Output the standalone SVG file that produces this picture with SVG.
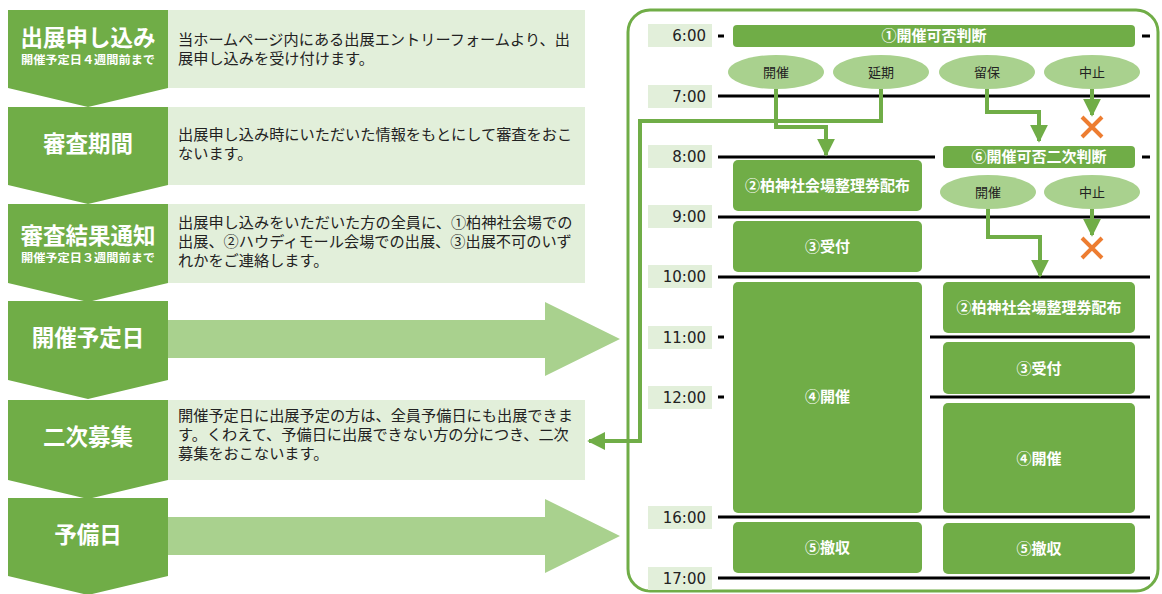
<svg xmlns="http://www.w3.org/2000/svg" width="1162" height="594" viewBox="0 0 1162 594">
<defs>
<style>
.blk{fill:#70ad47}
.desc{fill:#e2efda}
.big{fill:#a9d18e}
.ttl{font-family:"Noto Sans CJK JP",sans-serif;font-weight:bold;fill:#fff;font-size:22.5px;text-anchor:middle}
.sub{font-family:"Noto Sans CJK JP",sans-serif;font-weight:bold;fill:#fff;font-size:11.5px;text-anchor:middle}
.dt{font-family:"Noto Sans CJK JP",sans-serif;fill:#222;font-size:15.2px}
.tl{fill:#e2efda}
.tt{font-family:"DejaVu Sans",Verdana,sans-serif;fill:#222;font-size:15px;text-anchor:end}
.ln{stroke:#000;stroke-width:3;fill:none}
.box{fill:#70ad47}
.bt{font-family:"Noto Sans CJK JP",sans-serif;font-weight:bold;fill:#fff;font-size:15px;text-anchor:middle}
.ell{fill:#a9d18e}
.et{font-family:"Noto Sans CJK JP",sans-serif;fill:#222;font-size:13px;text-anchor:middle}
.con{stroke:#70ad47;stroke-width:4;fill:none}
.x{stroke:#ed7d31;stroke-width:4;fill:none}
</style>
<marker id="ah" viewBox="0 0 10 10" refX="9" refY="5" markerWidth="4.5" markerHeight="4.5" orient="auto" markerUnits="strokeWidth">
<path d="M0,0 L10,5 L0,10 Z" fill="#70ad47"/>
</marker>
</defs>

<!-- Left column -->
<g id="step1">
<rect class="desc" x="168" y="10" width="417" height="78"/>
<path class="blk" d="M8,10 H168 V88 L88,107 L8,88 Z"/>
<text class="ttl" x="88" y="46">出展申し込み</text>
<text class="sub" x="88" y="64" textLength="134" lengthAdjust="spacingAndGlyphs">開催予定日４週間前まで</text>
<text class="dt" x="178" y="45">当ホームページ内にある出展エントリーフォームより、出</text>
<text class="dt" x="178" y="64">展申し込みを受け付けます。</text>
</g>
<g id="step2">
<rect class="desc" x="168" y="107" width="417" height="78"/>
<path class="blk" d="M8,107 H168 V185 L88,204 L8,185 Z"/>
<text class="ttl" x="88" y="152">審査期間</text>
<text class="dt" x="178" y="140">出展申し込み時にいただいた情報をもとにして審査をおこ</text>
<text class="dt" x="178" y="159">ないます。</text>
</g>
<g id="step3">
<rect class="desc" x="168" y="204" width="417" height="79"/>
<path class="blk" d="M8,204 H168 V283 L88,302 L8,283 Z"/>
<text class="ttl" x="88" y="244">審査結果通知</text>
<text class="sub" x="88" y="262" textLength="134" lengthAdjust="spacingAndGlyphs">開催予定日３週間前まで</text>
<text class="dt" x="178" y="228">出展申し込みをいただいた方の全員に、①柏神社会場での</text>
<text class="dt" x="178" y="247">出展、②ハウディモール会場での出展、③出展不可のいず</text>
<text class="dt" x="178" y="266">れかをご連絡します。</text>
</g>
<g id="step4">
<path class="big" d="M168,320 H545 V302 L620,339 L545,376 V358 H168 Z"/>
<path class="blk" d="M8,301 H168 V380 L88,399 L8,380 Z"/>
<text class="ttl" x="88" y="346">開催予定日</text>
</g>
<g id="step5">
<rect class="desc" x="168" y="400" width="417" height="80"/>
<path class="blk" d="M8,400 H168 V480 L88,499 L8,480 Z"/>
<text class="ttl" x="88" y="445">二次募集</text>
<text class="dt" x="178" y="421">開催予定日に出展予定の方は、全員予備日にも出展できま</text>
<text class="dt" x="178" y="440">す。くわえて、予備日に出展できない方の分につき、二次</text>
<text class="dt" x="178" y="459">募集をおこないます。</text>
</g>
<g id="step6">
<path class="big" d="M168,517 H545 V499 L620,536 L545,573 V555 H168 Z"/>
<path class="blk" d="M8,498 H168 V576 L88,595 L8,576 Z"/>
<text class="ttl" x="88" y="543">予備日</text>
</g>

<!-- Right panel -->
<g id="panel">
<rect x="628" y="10" width="530" height="581" rx="22" fill="none" stroke="#70ad47" stroke-width="3"/>
</g>

<g id="timeline">
<rect class="tl" x="648" y="24" width="64" height="23"/><text class="tt" x="706" y="41">6:00</text>
<rect class="tl" x="648" y="85" width="64" height="23"/><text class="tt" x="706" y="102">7:00</text>
<rect class="tl" x="648" y="145" width="64" height="23"/><text class="tt" x="706" y="162">8:00</text>
<rect class="tl" x="648" y="205" width="64" height="23"/><text class="tt" x="706" y="222">9:00</text>
<rect class="tl" x="648" y="265" width="64" height="23"/><text class="tt" x="706" y="282">10:00</text>
<rect class="tl" x="648" y="326" width="64" height="23"/><text class="tt" x="706" y="343">11:00</text>
<rect class="tl" x="648" y="386" width="64" height="23"/><text class="tt" x="706" y="403">12:00</text>
<rect class="tl" x="648" y="506" width="64" height="23"/><text class="tt" x="706" y="523">16:00</text>
<rect class="tl" x="648" y="567" width="64" height="23"/><text class="tt" x="706" y="584">17:00</text>
<path class="ln" d="M718,36 H724 M1142,36 H1150"/>
<path class="ln" d="M718,96 H1150"/>
<path class="ln" d="M718,157 H935 M1142,157 H1150"/>
<path class="ln" d="M718,217 H1150"/>
<path class="ln" d="M718,277 H1150"/>
<path class="ln" d="M718,337 H724 M930,337 H1150"/>
<path class="ln" d="M718,397 H724 M930,397 H1150"/>
<path class="ln" d="M718,517 H1150"/>
<path class="ln" d="M718,578 H1150"/>
</g>

<g id="judge1">
<rect class="box" x="733" y="25" width="402" height="22" rx="4"/>
<text class="bt" x="934" y="41">①開催可否判断</text>
</g>
<g id="judge2">
<rect class="box" x="943" y="146" width="192" height="22" rx="4"/>
<text class="bt" x="1039" y="162">⑥開催可否二次判断</text>
</g>

<g id="opt-kaisai1"><ellipse class="ell" cx="776" cy="72" rx="48" ry="17"/><text class="et" x="776" y="77">開催</text></g>
<g id="opt-enki"><ellipse class="ell" cx="881" cy="72" rx="48" ry="17"/><text class="et" x="881" y="77">延期</text></g>
<g id="opt-horyu"><ellipse class="ell" cx="987" cy="72" rx="48" ry="17"/><text class="et" x="987" y="77">留保</text></g>
<g id="opt-chushi1"><ellipse class="ell" cx="1092" cy="72" rx="48" ry="17"/><text class="et" x="1092" y="77">中止</text></g>
<g id="opt-kaisai2"><ellipse class="ell" cx="988" cy="192" rx="48" ry="17"/><text class="et" x="988" y="197">開催</text></g>
<g id="opt-chushi2"><ellipse class="ell" cx="1092" cy="192" rx="48" ry="17"/><text class="et" x="1092" y="197">中止</text></g>

<g id="a-seiri"><rect class="box" x="733" y="160" width="189" height="51" rx="5"/><text class="bt" x="827.5" y="191">②柏神社会場整理券配布</text></g>
<g id="a-uketsuke"><rect class="box" x="733" y="221" width="189" height="51" rx="5"/><text class="bt" x="827.5" y="252">③受付</text></g>
<g id="a-kaisai"><rect class="box" x="733" y="282" width="189" height="231" rx="5"/><text class="bt" x="827.5" y="402">④開催</text></g>
<g id="a-tesshu"><rect class="box" x="733" y="522" width="189" height="51" rx="5"/><text class="bt" x="827.5" y="553">⑤撤収</text></g>
<g id="b-seiri"><rect class="box" x="943" y="282" width="192" height="51" rx="5"/><text class="bt" x="1039" y="313">②柏神社会場整理券配布</text></g>
<g id="b-uketsuke"><rect class="box" x="943" y="342" width="192" height="52" rx="5"/><text class="bt" x="1039" y="374">③受付</text></g>
<g id="b-kaisai"><rect class="box" x="943" y="403" width="192" height="110" rx="5"/><text class="bt" x="1039" y="464">④開催</text></g>
<g id="b-tesshu"><rect class="box" x="943" y="523" width="192" height="51" rx="5"/><text class="bt" x="1039" y="554">⑤撤収</text></g>

<g id="connectors">
<path class="con" d="M776,89 V127 H826 V155" marker-end="url(#ah)"/>
<path class="con" d="M881,89 V121 H640 V441 H589" marker-end="url(#ah)"/>
<path class="con" d="M987,89 V112 H1039 V141" marker-end="url(#ah)"/>
<path class="con" d="M1092,89 V115" marker-end="url(#ah)"/>
<path class="con" d="M988,209 V237 H1040 V276" marker-end="url(#ah)"/>
<path class="con" d="M1092,209 V235" marker-end="url(#ah)"/>
<path class="x" d="M1082,117 L1102,137 M1102,117 L1082,137"/>
<path class="x" d="M1082,238 L1102,258 M1102,238 L1082,258"/>
</g>
</svg>
